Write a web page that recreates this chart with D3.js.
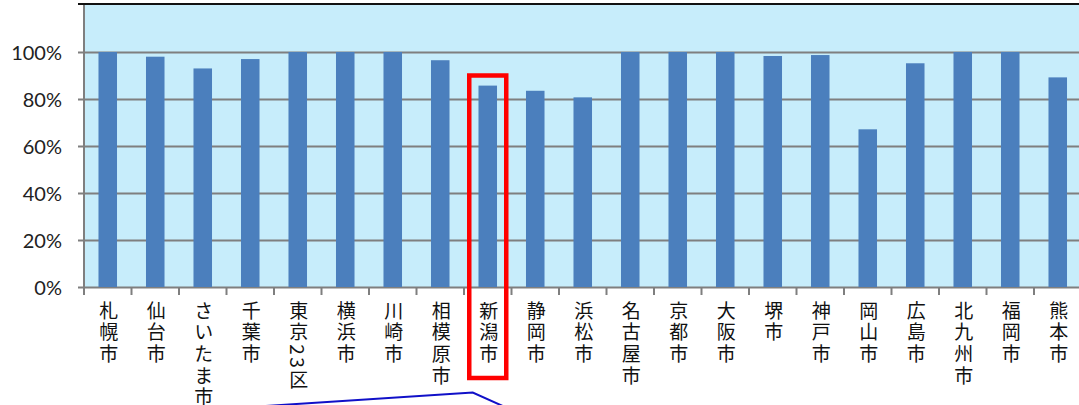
<!DOCTYPE html>
<html>
<head>
<meta charset="utf-8">
<script src="https://cdn.jsdelivr.net/npm/d3@7"></script>
<style>
body { margin: 0; background: #fff; overflow: hidden; }
svg { display: block; }
.ylab { font-family: Lato, "Open Sans", sans-serif; font-size: 20px; fill: #222; }
.xlab { font-family: "Noto Sans CJK JP", sans-serif; font-size: 19px; fill: #111; writing-mode: vertical-rl; letter-spacing: 2.6px; }
</style>
</head>
<body>
<div id="chart"></div>
<script>
var cities = ["札幌市", "仙台市", "さいたま市", "千葉市", "東京23区", "横浜市", "川崎市", "相模原市", "新潟市", "静岡市",
	"浜松市", "名古屋市", "京都市", "大阪市", "堺市", "神戸市", "岡山市", "広島市", "北九州市", "福岡市", "熊本市"];
var rates = [1.00, 0.98, 0.93, 0.97, 1.00, 1.00, 1.00, 0.965, 0.857, 0.835,
	0.807, 1.00, 1.00, 1.00, 0.983, 0.987, 0.671, 0.952, 1.00, 1.00, 0.892];
var yTicks = [0, 0.2, 0.4, 0.6, 0.8, 1.0];
var highlight = "新潟市";

var width = 1079;
var height = 405;
var left = 84;
var right = 1081.5;
var top_y = 5;
var bottom_y = 287;

var svg = d3.select("#chart").append("svg")
	.attr("width", width)
	.attr("height", height);

var x = d3.scaleBand()
	.domain(cities)
	.range([left, right])
	.paddingInner(0.61)
	.paddingOuter(0.305);

var y = d3.scaleLinear()
	.domain([0, 1.2])
	.range([bottom_y, top_y]);

// plot background
svg.append("rect")
	.attr("x", left)
	.attr("y", top_y)
	.attr("width", right - left)
	.attr("height", bottom_y - top_y)
	.attr("fill", "#c7edfb");

// top border
svg.append("line")
	.attr("x1", 78).attr("x2", width)
	.attr("y1", 4).attr("y2", 4)
	.attr("stroke", "#111")
	.attr("stroke-width", 2);

// gridlines + y labels
var yAxis = d3.axisLeft(y)
	.tickValues(yTicks)
	.tickSize(-(right - left) - 6)
	.tickFormat(d3.format(".0%"));

var gy = svg.append("g")
	.attr("transform", "translate(" + (left - 6) + ",0)")
	.call(yAxis);
gy.select(".domain").remove();
gy.selectAll(".tick line")
	.attr("stroke", "#7f7f7f")
	.attr("stroke-width", 2);
gy.selectAll(".tick text")
	.attr("class", "ylab")
	.attr("x", -16)
	.attr("dy", "0.35em");

// left axis line
svg.append("line")
	.attr("x1", left).attr("x2", left)
	.attr("y1", top_y).attr("y2", bottom_y)
	.attr("stroke", "#7f7f7f")
	.attr("stroke-width", 2);

// bars
svg.selectAll(".bar").data(cities).enter()
	.append("rect")
	.attr("class", "bar")
	.attr("x", function(d) { return x(d); })
	.attr("width", x.bandwidth())
	.attr("y", function(d, i) { return y(rates[i]); })
	.attr("height", function(d, i) { return y(0) - y(rates[i]); })
	.attr("fill", "#4b7fbd");

// x ticks at band boundaries
var step = x.step();
var bounds = d3.range(cities.length + 1).map(function(i) { return left + i * step; });
svg.selectAll(".xtick").data(bounds).enter()
	.append("line")
	.attr("x1", function(d) { return d; })
	.attr("x2", function(d) { return d; })
	.attr("y1", bottom_y)
	.attr("y2", bottom_y + 8)
	.attr("stroke", "#7f7f7f")
	.attr("stroke-width", 2);

// city labels, vertical
svg.selectAll(".xlab").data(cities).enter()
	.append("text")
	.attr("class", "xlab")
	.attr("x", function(d) { return x(d) + x.bandwidth() / 2 + 1; })
	.attr("y", 301)
	.text(function(d) { return d; });

// highlight box around 新潟市
var hx = x(highlight) + x.bandwidth() / 2;
svg.append("rect")
	.attr("x", hx - 18.5)
	.attr("y", 75.5)
	.attr("width", 37)
	.attr("height", 302.5)
	.attr("fill", "none")
	.attr("stroke", "#ff0000")
	.attr("stroke-width", 4.5);

// callout line
svg.append("polyline")
	.attr("points", [[hx - 222, 406], [hx - 15, 392.5], [hx + 15, 406]].join(" "))
	.attr("fill", "none")
	.attr("stroke", "#1010c8")
	.attr("stroke-width", 2);
</script>
</body>
</html>
